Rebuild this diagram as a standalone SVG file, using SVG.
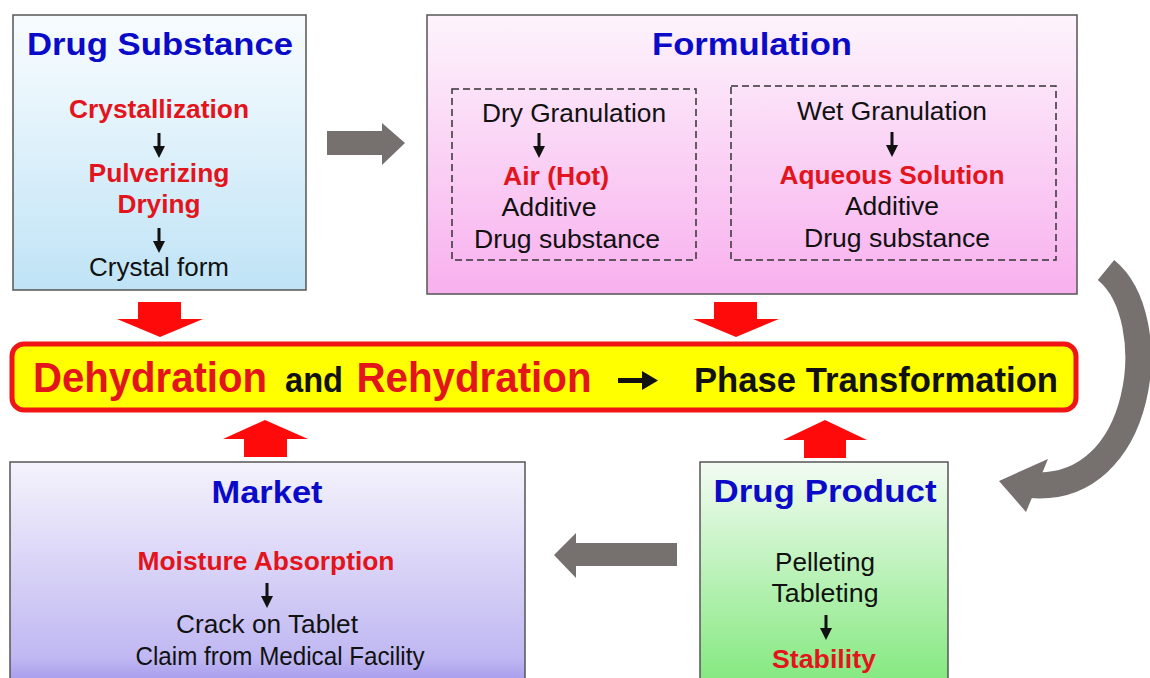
<svg xmlns="http://www.w3.org/2000/svg" width="1150" height="678" viewBox="0 0 1150 678">
  <style>
    text { font-family: "Liberation Sans", Arial, sans-serif; text-anchor: middle; }
    .title { font-weight: bold; font-size: 32px; fill: #0a0ac8; }
    .red { font-weight: bold; font-size: 25px; fill: #e3141c; }
    .blk { font-size: 26px; fill: #111; }
    .box { stroke: #555; stroke-width: 1.5; }
    .dash { fill: none; stroke: #333; stroke-width: 1.5; stroke-dasharray: 7 4; }
    .gray { fill: #76706f; }
    .redarrow { fill: #ff0a0a; }
    .band1 { font-weight: bold; font-size: 42px; fill: #e3141c; }
    .band2 { font-weight: bold; font-size: 35px; fill: #111; }
  </style>
  <defs>
    <linearGradient id="gDS" x1="0" y1="0" x2="0" y2="1">
      <stop offset="0" stop-color="#f7fbfe"/>
      <stop offset="0.2" stop-color="#eef8fd"/>
      <stop offset="1" stop-color="#bfe3f6"/>
    </linearGradient>
    <linearGradient id="gForm" x1="0" y1="0" x2="0" y2="1">
      <stop offset="0" stop-color="#fdf4fc"/>
      <stop offset="1" stop-color="#f8b0ee"/>
    </linearGradient>
    <linearGradient id="gMarket" x1="0" y1="0" x2="0" y2="1">
      <stop offset="0" stop-color="#f5f3fc"/>
      <stop offset="0.85" stop-color="#c0b8f2"/>
      <stop offset="1" stop-color="#9a8eea"/>
    </linearGradient>
    <linearGradient id="gProd" x1="0" y1="0" x2="0" y2="1">
      <stop offset="0" stop-color="#f3fbf3"/>
      <stop offset="1" stop-color="#7fe87a"/>
    </linearGradient>
    <!-- small black down arrow used between process steps -->
    <g id="down">
      <rect x="-1.5" y="0" width="3" height="16" fill="#111"/>
      <polygon points="-6,13 6,13 0,25" fill="#111"/>
    </g>
  </defs>

  <!-- connectors -->
  <g id="connectors">
    <!-- grey flow arrows -->
    <polygon class="gray" points="327,131 382,131 382,123 405,143 382,165 382,155 327,155"/>
    <polygon class="gray" points="677,543 576,543 576,533 554,555 576,578 576,566 677,566"/>
    <path d="M1106,270 C1165,318 1145,495 1030,485" fill="none" stroke="#76706f" stroke-width="26"/>
    <polygon class="gray" points="999,481 1048,459 1026,512"/>
    <!-- red arrows into the central band -->
    <polygon class="redarrow" points="138,302 181,302 181,319 203,319 160,337 117,319 138,319"/>
    <polygon class="redarrow" points="714,302 757,302 757,319 779,319 736,337 693,319 714,319"/>
    <polygon class="redarrow" points="244,457 287,457 287,439 308,439 265,420 223,439 244,439"/>
    <polygon class="redarrow" points="804,458 846,458 846,440 867,440 825,420 783,440 804,440"/>
  </g>

  <!-- Drug Substance -->
  <g id="drug-substance">
    <rect class="box" x="13" y="15" width="293" height="275" fill="url(#gDS)"/>
    <text class="title" x="160" y="55" textLength="266" lengthAdjust="spacingAndGlyphs">Drug Substance</text>
    <text class="red" x="159" y="118" textLength="180" lengthAdjust="spacingAndGlyphs">Crystallization</text>
    <use href="#down" x="159" y="133"/>
    <text class="red" x="159" y="182" textLength="141" lengthAdjust="spacingAndGlyphs">Pulverizing</text>
    <text class="red" x="159" y="213" textLength="83" lengthAdjust="spacingAndGlyphs">Drying</text>
    <use href="#down" x="159" y="228"/>
    <text class="blk" x="159" y="276" textLength="140" lengthAdjust="spacingAndGlyphs">Crystal form</text>
  </g>

  <!-- Formulation -->
  <g id="formulation">
    <rect class="box" x="427" y="15" width="650" height="279" fill="url(#gForm)"/>
    <text class="title" x="752" y="55" textLength="200" lengthAdjust="spacingAndGlyphs">Formulation</text>
    <rect class="dash" x="452" y="89" width="244" height="171"/>
    <rect class="dash" x="731" y="86" width="325" height="174"/>
    <text class="blk" x="574" y="122" textLength="184" lengthAdjust="spacingAndGlyphs">Dry Granulation</text>
    <use href="#down" x="539" y="133"/>
    <text class="red" x="556" y="185" textLength="106" lengthAdjust="spacingAndGlyphs">Air (Hot)</text>
    <text class="blk" x="549" y="216" textLength="95" lengthAdjust="spacingAndGlyphs">Additive</text>
    <text class="blk" x="567" y="248" textLength="186" lengthAdjust="spacingAndGlyphs">Drug substance</text>
    <text class="blk" x="892" y="120" textLength="190" lengthAdjust="spacingAndGlyphs">Wet Granulation</text>
    <use href="#down" x="892" y="132"/>
    <text class="red" x="892" y="184" textLength="225" lengthAdjust="spacingAndGlyphs">Aqueous Solution</text>
    <text class="blk" x="892" y="215" textLength="94" lengthAdjust="spacingAndGlyphs">Additive</text>
    <text class="blk" x="897" y="247" textLength="186" lengthAdjust="spacingAndGlyphs">Drug substance</text>
  </g>

  <!-- central band -->
  <g id="phase-band">
    <rect x="12" y="344" width="1064" height="66" rx="12" fill="#ffff00" stroke="#f01414" stroke-width="5"/>
    <text class="band1" x="150" y="392" textLength="234" lengthAdjust="spacingAndGlyphs">Dehydration</text>
    <text class="band2" x="314" y="392" textLength="58" lengthAdjust="spacingAndGlyphs">and</text>
    <text class="band1" x="474" y="392" textLength="235" lengthAdjust="spacingAndGlyphs">Rehydration</text>
    <rect x="618" y="378" width="28" height="5" fill="#111"/>
    <polygon points="642,371 658,380.5 642,390" fill="#111"/>
    <text class="band2" x="876" y="392" textLength="364" lengthAdjust="spacingAndGlyphs">Phase Transformation</text>
  </g>

  <!-- Market -->
  <g id="market">
    <rect class="box" x="10" y="462" width="515" height="230" fill="url(#gMarket)"/>
    <text class="title" x="267" y="503" textLength="111" lengthAdjust="spacingAndGlyphs">Market</text>
    <text class="red" x="266" y="570" textLength="257" lengthAdjust="spacingAndGlyphs">Moisture Absorption</text>
    <use href="#down" x="267" y="583"/>
    <text class="blk" x="267" y="633" textLength="182" lengthAdjust="spacingAndGlyphs">Crack on Tablet</text>
    <text class="blk" x="280" y="665" textLength="289" lengthAdjust="spacingAndGlyphs">Claim from Medical Facility</text>
  </g>

  <!-- Drug Product -->
  <g id="drug-product">
    <rect class="box" x="700" y="462" width="248" height="230" fill="url(#gProd)"/>
    <text class="title" x="825" y="502" textLength="223" lengthAdjust="spacingAndGlyphs">Drug Product</text>
    <text class="blk" x="825" y="571" textLength="100" lengthAdjust="spacingAndGlyphs">Pelleting</text>
    <text class="blk" x="825" y="602" textLength="107" lengthAdjust="spacingAndGlyphs">Tableting</text>
    <use href="#down" x="826" y="615"/>
    <text class="red" x="824" y="668" textLength="104" lengthAdjust="spacingAndGlyphs">Stability</text>
  </g>
</svg>
